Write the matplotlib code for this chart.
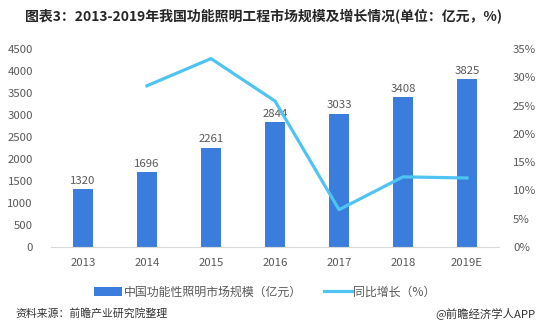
import numpy as np
import matplotlib.pyplot as plt
from matplotlib.lines import Line2D
from matplotlib.patches import Patch

plt.rcParams['font.family'] = ['Noto Sans CJK SC', 'DejaVu Sans']

years = ["2013", "2014", "2015", "2016", "2017", "2018", "2019E"]
market_size = [1320, 1696, 2261, 2844, 3033, 3408, 3825]
growth_pct = [None, 28.5, 33.3, 25.8, 6.6, 12.4, 12.2]

BAR_COLOR = "#3b7ddd"
LINE_COLOR = "#4fc4f2"
TEXT_COLOR = "#595959"

W, H = 540, 331
fig = plt.figure(figsize=(W / 100, H / 100), dpi=100)
ax = fig.add_axes([51 / W, (H - 247) / H, (499 - 51) / W, (247 - 49) / H])

x = np.arange(len(years))
ax.bar(x, market_size, width=0.31, color=BAR_COLOR, zorder=2)
for xi, v in zip(x, market_size):
    ax.text(xi, v + 70, str(v), ha="center", va="bottom", fontsize=8.2, color=TEXT_COLOR)

ax.set_xlim(-0.5, len(years) - 0.5)
ax.set_ylim(0, 4500)
ax.set_yticks(np.arange(0, 4501, 500))
ax.set_xticks(x)
ax.set_xticklabels(years)
ax.tick_params(axis="both", length=0, labelsize=8.2, colors=TEXT_COLOR)
ax.tick_params(axis="y", pad=13)
ax.tick_params(axis="x", pad=8)
for side in ["top", "right", "left"]:
    ax.spines[side].set_visible(False)
ax.spines["bottom"].set_color("#d9d9d9")

ax2 = ax.twinx()
gx = [xi for xi, g in zip(x, growth_pct) if g is not None]
gy = [g for g in growth_pct if g is not None]
ax2.plot(gx, gy, color=LINE_COLOR, linewidth=2.3, zorder=3)
ax2.set_ylim(0, 35)
ax2.set_yticks(np.arange(0, 36, 5))
ax2.set_yticklabels([f"{t}%" for t in range(0, 36, 5)])
ax2.tick_params(axis="y", length=0, labelsize=8.2, colors=TEXT_COLOR, pad=10)
for side in ["top", "right", "left", "bottom"]:
    ax2.spines[side].set_visible(False)

fig.text(264 / W, 1 - 17 / H, "图表3：2013-2019年我国功能照明工程市场规模及增长情况(单位：亿元，%)",
         ha="center", va="center", fontsize=10, fontweight="bold", color="#262626")

handles = [
    Patch(facecolor=BAR_COLOR, label="中国功能性照明市场规模（亿元）"),
    Line2D([0], [0], color=LINE_COLOR, linewidth=2.3, label="同比增长（%）"),
]
fig.legend(handles=handles, loc="center", bbox_to_anchor=(265 / W, 1 - 292 / H), ncol=2,
           frameon=False, fontsize=8.6, handlelength=2.3, handletextpad=0.15,
           columnspacing=1.9, labelcolor=TEXT_COLOR)

fig.text(15 / W, 1 - 313 / H, "资料来源：前瞻产业研究院整理", ha="left", va="center",
         fontsize=7.8, color="#333333")
fig.text(535 / W, 1 - 313 / H, "@前瞻经济学人APP", ha="right", va="center",
         fontsize=8.2, color="#333333")

fig.savefig("out.png", dpi=100, facecolor="white")
